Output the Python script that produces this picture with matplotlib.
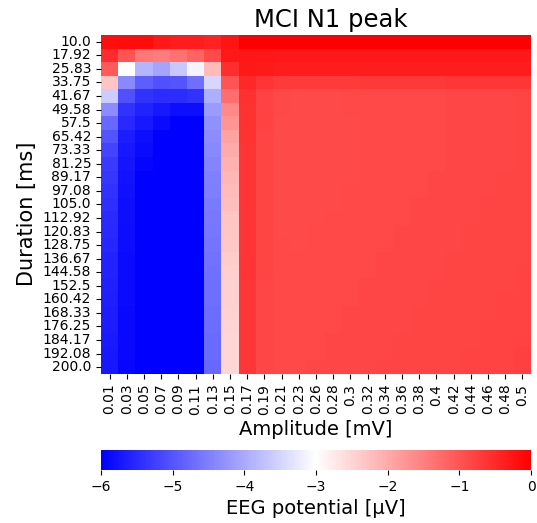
import matplotlib
matplotlib.use("Agg")
import matplotlib.pyplot as plt
import numpy as np
import seaborn as sns

# tick labels
amplitude_labels = ["0.01", "0.03", "0.05", "0.07", "0.09", "0.11", "0.13", "0.15",
                    "0.17", "0.19", "0.21", "0.23", "0.26", "0.28", "0.3", "0.32",
                    "0.34", "0.36", "0.38", "0.4", "0.42", "0.44", "0.46", "0.48", "0.5"]
duration_labels = ["10.0", "17.92", "25.83", "33.75", "41.67", "49.58", "57.5", "65.42",
                   "73.33", "81.25", "89.17", "97.08", "105.0", "112.92", "120.83",
                   "128.75", "136.67", "144.58", "152.5", "160.42", "168.33", "176.25",
                   "184.17", "192.08", "200.0"]

# EEG potential, rows = duration, cols = amplitude
# left part (amplitude 0.01 .. 0.15)
left_block = [
    [-0.18, -0.15, -0.16, -0.30, -0.33, -0.35, -0.40, -0.24],
    [-0.53, -1.00, -1.41, -1.47, -1.35, -1.18, -0.88, -0.30],
    [-1.06, -3.00, -3.88, -4.06, -3.65, -3.12, -2.20, -0.55],
    [-2.30, -4.40, -4.88, -5.06, -5.00, -4.70, -3.47, -1.00],
    [-3.60, -5.06, -5.40, -5.47, -5.47, -5.40, -3.94, -1.30],
    [-4.35, -5.40, -5.59, -5.70, -5.82, -5.82, -4.18, -1.60],
    [-4.76, -5.53, -5.70, -5.88, -6.00, -6.00, -4.30, -1.75],
    [-5.00, -5.65, -5.82, -6.00, -6.00, -6.00, -4.35, -1.90],
    [-5.18, -5.70, -5.88, -6.00, -6.00, -6.00, -4.40, -2.00],
    [-5.30, -5.76, -5.94, -6.00, -6.00, -6.00, -4.45, -2.08],
    [-5.35, -5.78, -6.00, -6.00, -6.00, -6.00, -4.50, -2.15],
    [-5.40, -5.80, -6.00, -6.00, -6.00, -6.00, -4.52, -2.20],
    [-5.45, -5.82, -6.00, -6.00, -6.00, -6.00, -4.55, -2.25],
    [-5.50, -5.83, -6.00, -6.00, -6.00, -6.00, -4.58, -2.30],
    [-5.52, -5.84, -6.00, -6.00, -6.00, -6.00, -4.60, -2.33],
    [-5.55, -5.85, -6.00, -6.00, -6.00, -6.00, -4.62, -2.36],
    [-5.58, -5.86, -6.00, -6.00, -6.00, -6.00, -4.65, -2.40],
    [-5.60, -5.87, -6.00, -6.00, -6.00, -6.00, -4.67, -2.42],
    [-5.62, -5.88, -6.00, -6.00, -6.00, -6.00, -4.69, -2.44],
    [-5.64, -5.88, -6.00, -6.00, -6.00, -6.00, -4.70, -2.46],
    [-5.65, -5.89, -6.00, -6.00, -6.00, -6.00, -4.72, -2.48],
    [-5.67, -5.90, -6.00, -6.00, -6.00, -6.00, -4.73, -2.50],
    [-5.68, -5.90, -6.00, -6.00, -6.00, -6.00, -4.74, -2.51],
    [-5.70, -5.90, -6.00, -6.00, -6.00, -6.00, -4.75, -2.52],
    [-5.72, -5.91, -6.00, -6.00, -6.00, -6.00, -4.76, -2.53],
]
# right part (amplitude 0.17 .. 0.5)
right_block = [
    [-0.02, -0.02, -0.02, -0.02, -0.02, -0.02, -0.02, -0.02, -0.02, -0.02, -0.02, -0.02, -0.02, -0.02, -0.02, -0.02, -0.02],
    [-0.28, -0.28, -0.29, -0.29, -0.29, -0.29, -0.29, -0.29, -0.29, -0.29, -0.29, -0.29, -0.29, -0.29, -0.29, -0.29, -0.29],
    [-0.30, -0.32, -0.33, -0.33, -0.33, -0.33, -0.33, -0.33, -0.33, -0.33, -0.33, -0.33, -0.33, -0.33, -0.33, -0.33, -0.33],
    [-0.47, -0.62, -0.68, -0.68, -0.68, -0.68, -0.68, -0.67, -0.67, -0.67, -0.66, -0.66, -0.65, -0.65, -0.65, -0.64, -0.64],
    [-0.58, -0.78, -0.86, -0.87, -0.87, -0.87, -0.86, -0.86, -0.86, -0.85, -0.85, -0.85, -0.84, -0.84, -0.83, -0.83, -0.82],
    [-0.59, -0.79, -0.86, -0.87, -0.87, -0.87, -0.86, -0.86, -0.86, -0.85, -0.85, -0.85, -0.84, -0.84, -0.83, -0.83, -0.82],
    [-0.60, -0.79, -0.87, -0.87, -0.87, -0.87, -0.87, -0.86, -0.86, -0.85, -0.85, -0.85, -0.84, -0.84, -0.83, -0.83, -0.82],
    [-0.60, -0.80, -0.87, -0.88, -0.88, -0.87, -0.87, -0.86, -0.86, -0.86, -0.85, -0.85, -0.84, -0.84, -0.83, -0.83, -0.82],
    [-0.61, -0.80, -0.87, -0.88, -0.88, -0.87, -0.87, -0.86, -0.86, -0.86, -0.85, -0.85, -0.84, -0.84, -0.83, -0.83, -0.82],
    [-0.61, -0.81, -0.87, -0.88, -0.88, -0.87, -0.87, -0.86, -0.86, -0.86, -0.85, -0.85, -0.84, -0.84, -0.83, -0.83, -0.82],
    [-0.62, -0.81, -0.87, -0.88, -0.87, -0.87, -0.87, -0.86, -0.86, -0.85, -0.85, -0.84, -0.84, -0.83, -0.83, -0.82, -0.82],
    [-0.62, -0.81, -0.87, -0.87, -0.87, -0.87, -0.86, -0.86, -0.85, -0.85, -0.85, -0.84, -0.84, -0.83, -0.83, -0.82, -0.81],
    [-0.62, -0.82, -0.87, -0.87, -0.87, -0.87, -0.86, -0.86, -0.85, -0.85, -0.84, -0.84, -0.83, -0.83, -0.82, -0.82, -0.81],
    [-0.62, -0.82, -0.87, -0.87, -0.87, -0.86, -0.86, -0.85, -0.85, -0.85, -0.84, -0.84, -0.83, -0.83, -0.82, -0.81, -0.81],
    [-0.63, -0.82, -0.87, -0.87, -0.86, -0.86, -0.86, -0.85, -0.85, -0.84, -0.84, -0.83, -0.83, -0.82, -0.82, -0.81, -0.80],
    [-0.63, -0.82, -0.86, -0.87, -0.86, -0.86, -0.85, -0.85, -0.85, -0.84, -0.84, -0.83, -0.83, -0.82, -0.81, -0.81, -0.80],
    [-0.63, -0.82, -0.86, -0.86, -0.86, -0.86, -0.85, -0.85, -0.84, -0.84, -0.83, -0.83, -0.82, -0.82, -0.81, -0.80, -0.80],
    [-0.63, -0.82, -0.86, -0.86, -0.86, -0.85, -0.85, -0.85, -0.84, -0.84, -0.83, -0.83, -0.82, -0.81, -0.81, -0.80, -0.79],
    [-0.64, -0.83, -0.86, -0.86, -0.86, -0.85, -0.85, -0.84, -0.84, -0.83, -0.83, -0.82, -0.82, -0.81, -0.80, -0.80, -0.79],
    [-0.64, -0.83, -0.86, -0.86, -0.85, -0.85, -0.85, -0.84, -0.84, -0.83, -0.83, -0.82, -0.81, -0.81, -0.80, -0.79, -0.79],
    [-0.64, -0.83, -0.86, -0.86, -0.85, -0.85, -0.84, -0.84, -0.83, -0.83, -0.82, -0.82, -0.81, -0.80, -0.80, -0.79, -0.78],
    [-0.64, -0.83, -0.86, -0.85, -0.85, -0.85, -0.84, -0.84, -0.83, -0.83, -0.82, -0.81, -0.81, -0.80, -0.79, -0.79, -0.78],
    [-0.65, -0.83, -0.85, -0.85, -0.85, -0.84, -0.84, -0.83, -0.83, -0.82, -0.82, -0.81, -0.80, -0.80, -0.79, -0.78, -0.78],
    [-0.65, -0.83, -0.85, -0.85, -0.85, -0.84, -0.84, -0.83, -0.83, -0.82, -0.81, -0.81, -0.80, -0.79, -0.79, -0.78, -0.77],
    [-0.65, -0.84, -0.85, -0.85, -0.84, -0.84, -0.83, -0.83, -0.82, -0.82, -0.81, -0.80, -0.80, -0.79, -0.78, -0.78, -0.77],
]

potential = np.hstack([np.array(left_block), np.array(right_block)])

fig = plt.figure(figsize=(5.37, 5.23), dpi=100)
ax = fig.add_axes([0.188, 0.285, 0.801, 0.648])
cax = fig.add_axes([0.188, 0.101, 0.801, 0.038])

sns.heatmap(potential, ax=ax, cbar_ax=cax, cmap="bwr", vmin=-6, vmax=0,
            xticklabels=amplitude_labels, yticklabels=duration_labels,
            cbar_kws={"orientation": "horizontal"})

ax.set_title("MCI N1 peak", fontsize=17.5, x=0.535)
ax.set_xlabel("Amplitude [mV]", fontsize=14)
ax.set_ylabel("Duration [ms]", fontsize=15, y=0.472)
ax.tick_params(axis="x", labelrotation=90, labelsize=10)
ax.tick_params(axis="y", labelrotation=0, labelsize=10)

cax.set_xlabel("EEG potential [µV]", fontsize=14)
cax.tick_params(labelsize=10)

fig.savefig("out.png", dpi=100)
plt.close(fig)
